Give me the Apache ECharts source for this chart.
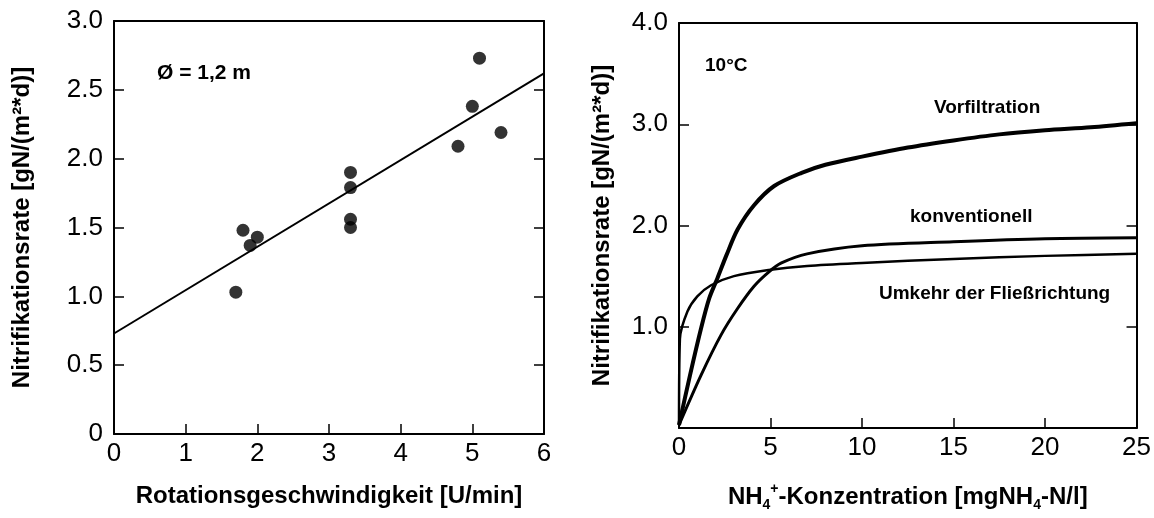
<!DOCTYPE html>
<html>
<head>
<meta charset="utf-8">
<script src="https://cdn.jsdelivr.net/npm/echarts@6/dist/echarts.min.js"></script>
<style>
  html, body { margin: 0; padding: 0; background: #fff; }
  #chart { width: 1154px; height: 518px; }
</style>
</head>
<body>
<div id="chart"></div>
<script>
// left panel: rotation speed vs nitrification rate
const speed = [1.7, 1.8, 1.9, 2.0, 3.3, 3.3, 3.3, 3.3, 4.8, 5.0, 5.1, 5.4];
const rate = [1.03, 1.48, 1.37, 1.43, 1.90, 1.79, 1.56, 1.50, 2.09, 2.38, 2.73, 2.19];
const fitX = [0, 6];
const fitY = [0.73, 2.62];

// right panel: NH4 concentration vs nitrification rate
const vorX = [0, 0.6, 1.2, 1.65, 2.1, 2.6, 3.2, 4.1, 5.2, 6.7, 8, 10, 12.5, 15, 17.5, 20, 22.5, 25];
const vorY = [0.03, 0.52, 0.98, 1.28, 1.48, 1.71, 1.96, 2.2, 2.39, 2.52, 2.6, 2.68, 2.77, 2.84, 2.9, 2.94, 2.97, 3.01];
const konX = [0, 1.2, 2.3, 3.2, 4.1, 4.9, 5.6, 7, 10, 15, 20, 25];
const konY = [0.03, 0.52, 0.92, 1.18, 1.40, 1.54, 1.63, 1.72, 1.80, 1.84, 1.87, 1.88];
const umkX = [0, 0.05, 0.46, 1.0, 1.75, 3.0, 4.9, 7, 10, 15, 20, 25];
const umkY = [0.03, 0.88, 1.15, 1.30, 1.41, 1.50, 1.56, 1.60, 1.63, 1.67, 1.70, 1.72];

const yTitle = "Nitrifikationsrate [gN/(m\u00b2*d)]";
const FONT = "Liberation Sans, Arial, sans-serif";

const zip = (xs, ys) => xs.map((x, i) => [x, ys[i]]);

const axisLine = { show: true, onZero: false, lineStyle: { color: "#000", width: 2 } };
const tickIn = { show: true, inside: true, length: 10, lineStyle: { color: "#000", width: 1.5 } };
const tickLabel = { color: "#000", fontSize: 26, fontFamily: FONT };
const titleStyle = { color: "#000", fontSize: 24, fontWeight: "bold", fontFamily: FONT };

const chart = echarts.init(document.getElementById("chart"));
chart.setOption({
  animation: false,
  backgroundColor: "#fff",
  grid: [
    { left: 114, top: 21, width: 430, height: 413 },
    { left: 679, top: 23, width: 461, height: 405 }
  ],
  xAxis: [
    {
      gridIndex: 0, type: "value", min: 0, max: 6, interval: 1, position: "bottom",
      axisLine: axisLine, axisTick: tickIn, splitLine: { show: false },
      axisLabel: Object.assign({ margin: 7 }, tickLabel),
      name: "Rotationsgeschwindigkeit [U/min]", nameLocation: "middle", nameGap: 50,
      nameTextStyle: titleStyle
    },
    {
      gridIndex: 0, type: "value", min: 0, max: 6, position: "top",
      axisLine: axisLine, axisTick: { show: false }, axisLabel: { show: false }, splitLine: { show: false }
    },
    {
      gridIndex: 1, type: "value", min: 0, max: 25, interval: 5, position: "bottom",
      axisLine: axisLine, axisTick: tickIn, splitLine: { show: false },
      axisLabel: Object.assign({ margin: 7 }, tickLabel),
      name: "NH{sub|4}{sup|+}-Konzentration [mgNH{sub|4}-N/l]", nameLocation: "middle", nameGap: 54,
      nameTextStyle: Object.assign({}, titleStyle, {
        lineHeight: 30,
        rich: {
          sub: { fontSize: 14, fontWeight: "bold", fontFamily: FONT, color: "#000", verticalAlign: "bottom", lineHeight: 15 },
          sup: { fontSize: 14, fontWeight: "bold", fontFamily: FONT, color: "#000", verticalAlign: "top", lineHeight: 15 }
        }
      })
    },
    {
      gridIndex: 1, type: "value", min: 0, max: 25, position: "top",
      axisLine: axisLine, axisTick: { show: false }, axisLabel: { show: false }, splitLine: { show: false }
    }
  ],
  yAxis: [
    {
      gridIndex: 0, type: "value", min: 0, max: 3, interval: 0.5, position: "left",
      axisLine: axisLine, axisTick: tickIn, splitLine: { show: false },
      axisLabel: Object.assign({ margin: 11, formatter: v => (v === 0 ? "0" : v.toFixed(1)) }, tickLabel),
      name: yTitle, nameLocation: "middle", nameGap: 80, nameTextStyle: titleStyle
    },
    {
      gridIndex: 0, type: "value", min: 0, max: 3, interval: 0.5, position: "right",
      axisLine: axisLine, axisTick: tickIn, axisLabel: { show: false }, splitLine: { show: false }
    },
    {
      gridIndex: 1, type: "value", min: 0, max: 4, interval: 1, position: "left",
      axisLine: axisLine, axisTick: tickIn, splitLine: { show: false },
      axisLabel: Object.assign({ margin: 11, formatter: v => (v === 0 ? "" : v.toFixed(1)) }, tickLabel),
      name: yTitle, nameLocation: "middle", nameGap: 65, nameTextStyle: titleStyle
    },
    {
      gridIndex: 1, type: "value", min: 0, max: 4, interval: 1, position: "right",
      axisLine: axisLine, axisTick: tickIn, axisLabel: { show: false }, splitLine: { show: false }
    }
  ],
  graphic: [
    { type: "text", left: 157, top: 63, style: { text: "\u00d8 = 1,2 m", font: "bold 21px " + FONT, fill: "#000" } },
    { type: "text", left: 705, top: 56, style: { text: "10\u00b0C", font: "bold 19px " + FONT, fill: "#000" } },
    { type: "text", left: 934, top: 98, style: { text: "Vorfiltration", font: "bold 19px " + FONT, fill: "#000" } },
    { type: "text", left: 910, top: 207, style: { text: "konventionell", font: "bold 19px " + FONT, fill: "#000" } },
    { type: "text", left: 879, top: 284, style: { text: "Umkehr der Flie\u00dfrichtung", font: "bold 19px " + FONT, fill: "#000" } }
  ],
  series: [
    {
      name: "Messwerte", type: "scatter", xAxisIndex: 0, yAxisIndex: 0,
      data: zip(speed, rate), symbolSize: 13, itemStyle: { color: "#000" }
    },
    {
      name: "Regression", type: "line", xAxisIndex: 0, yAxisIndex: 0,
      data: zip(fitX, fitY), symbol: "none", lineStyle: { color: "#000", width: 2 }
    },
    {
      name: "Vorfiltration", type: "line", xAxisIndex: 2, yAxisIndex: 2,
      data: zip(vorX, vorY), symbol: "none", smooth: 0.3,
      lineStyle: { color: "#000", width: 4 }
    },
    {
      name: "konventionell", type: "line", xAxisIndex: 2, yAxisIndex: 2,
      data: zip(konX, konY), symbol: "none", smooth: 0.3,
      lineStyle: { color: "#000", width: 3 }
    },
    {
      name: "Umkehr der Fließrichtung", type: "line", xAxisIndex: 2, yAxisIndex: 2,
      data: zip(umkX, umkY), symbol: "none", smooth: 0.3,
      lineStyle: { color: "#000", width: 2.5 }
    }
  ]
});
</script>
</body>
</html>
